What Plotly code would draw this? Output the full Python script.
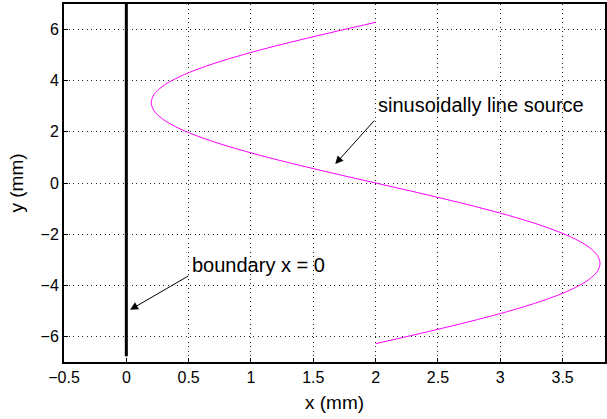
import plotly.graph_objects as go

# Sinusoidal line source (x in mm, y in mm)
source_y = [6.283, 5.969, 5.655, 5.341, 5.027, 4.712, 4.398, 4.084, 3.770, 3.456,
            3.142, 2.827, 2.513, 2.199, 1.885, 1.571, 1.257, 0.942, 0.628, 0.314,
            0.000, -0.314, -0.628, -0.942, -1.257, -1.571, -1.885, -2.199, -2.513, -2.827,
            -3.142, -3.456, -3.770, -4.084, -4.398, -4.712, -5.027, -5.341, -5.655, -5.969,
            -6.283]
source_x = [2.000, 1.718, 1.444, 1.183, 0.942, 0.727, 0.544, 0.396, 0.288, 0.222,
            0.200, 0.222, 0.288, 0.396, 0.544, 0.727, 0.942, 1.183, 1.444, 1.718,
            2.000, 2.282, 2.556, 2.817, 3.058, 3.273, 3.456, 3.604, 3.712, 3.778,
            3.800, 3.778, 3.712, 3.604, 3.456, 3.273, 3.058, 2.817, 2.556, 2.282,
            2.000]

# Boundary line x = 0
boundary_x = [0, 0]
boundary_y = [-6.78, 7.0]

x_ticks = [-0.5, 0, 0.5, 1, 1.5, 2, 2.5, 3, 3.5]
x_tick_text = ["\u22120.5", "0", "0.5", "1", "1.5", "2", "2.5", "3", "3.5"]
y_ticks = [-6, -4, -2, 0, 2, 4, 6]
y_tick_text = ["\u22126", "\u22124", "\u22122", "0", "2", "4", "6"]

FONT = "Liberation Sans, Arial, sans-serif"

fig = go.Figure()
fig.add_trace(go.Scatter(x=boundary_x, y=boundary_y, mode="lines",
                         line=dict(color="black", width=3), showlegend=False,
                         hoverinfo="skip"))
fig.add_trace(go.Scatter(x=source_x, y=source_y, mode="lines",
                         line=dict(color="#ff00ff", width=1, shape="spline"),
                         showlegend=False))

fig.add_annotation(x=1.676, y=0.74, ax=2.0, ay=2.5, xref="x", yref="y",
                   axref="x", ayref="y", text="", showarrow=True,
                   arrowhead=2, arrowsize=1.6, arrowwidth=1, arrowcolor="black")
fig.add_annotation(x=2.0, y=3.05, xref="x", yref="y", text="sinusoidally line source",
                   showarrow=False, xanchor="left", yanchor="middle",
                   font=dict(family=FONT, size=20, color="black"))
fig.add_annotation(x=0.03, y=-4.96, ax=0.51, ay=-3.6, xref="x", yref="y",
                   axref="x", ayref="y", text="", showarrow=True,
                   arrowhead=2, arrowsize=1.6, arrowwidth=1, arrowcolor="black")
fig.add_annotation(x=0.51, y=-3.2, xref="x", yref="y", text="boundary x = 0",
                   showarrow=False, xanchor="left", yanchor="middle",
                   font=dict(family=FONT, size=20, color="black"))

axis_common = dict(showline=True, linecolor="black", linewidth=2, mirror=True,
                   showgrid=True, gridcolor="#222222", griddash="1px,3.5px", gridwidth=1,
                   zeroline=False, ticks="inside", ticklen=4, tickwidth=1, tickcolor="black",
                   tickfont=dict(family=FONT, size=16, color="black"))

fig.update_xaxes(range=[-0.5, 3.84], tickvals=x_ticks, ticktext=x_tick_text,
                 title=dict(text="x (mm)", font=dict(family=FONT, size=19, color="black"),
                            standoff=10),
                 **axis_common)
fig.update_yaxes(range=[-7, 7], tickvals=y_ticks, ticktext=y_tick_text,
                 title=dict(text="y (mm)", font=dict(family=FONT, size=19, color="black"),
                            standoff=12),
                 **axis_common)

fig.update_layout(width=607, height=419, margin=dict(l=64, r=0, t=4, b=57),
                  plot_bgcolor="white", paper_bgcolor="white",
                  font=dict(family=FONT, color="black"))

fig.write_html("out.html")
